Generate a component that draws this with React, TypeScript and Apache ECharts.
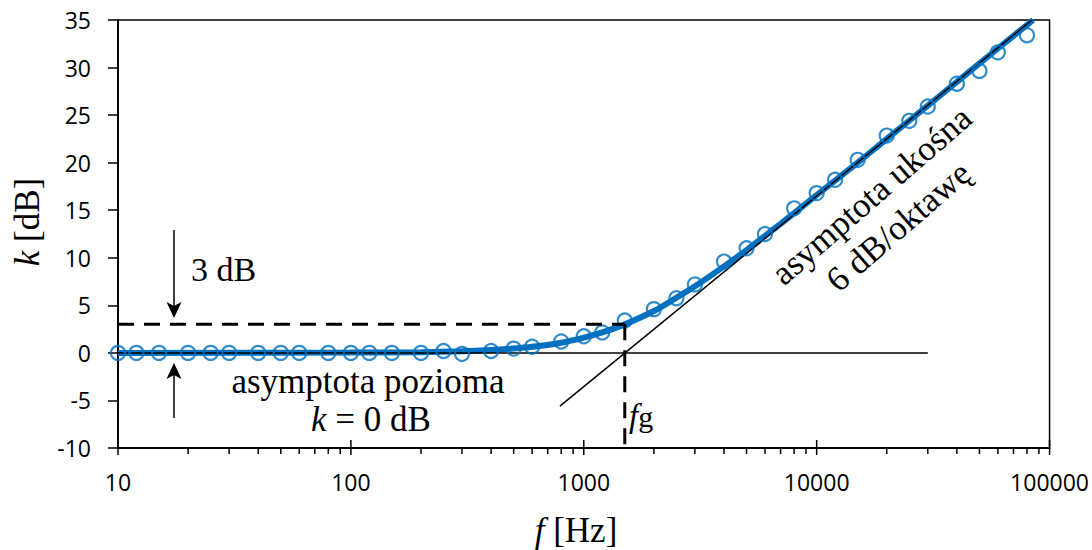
import React, { useEffect, useRef } from "react";
import * as echarts from "echarts";

// measured points (circles)
const FREQS = [10, 12, 15, 20, 25, 30, 40, 50, 60, 80, 100, 120, 150, 200, 250, 300, 400, 500, 600, 800, 1000, 1200, 1500, 2000, 2500, 3000, 4000, 5000, 6000, 8000, 10000, 12000, 15000, 20000, 25000, 30000, 40000, 50000, 60000, 80000];
const MEASURED = [0, 0, 0, 0, 0, 0, 0, 0, 0, 0, 0, 0, 0, 0, 0.2, -0.1, 0.2, 0.45, 0.65, 1.2, 1.75, 2.15, 3.4, 4.6, 5.75, 7.2, 9.6, 11.0, 12.5, 15.2, 16.8, 18.2, 20.3, 22.85, 24.4, 25.9, 28.3, 29.65, 31.6, 33.4];

// smooth blue curve
const CURVE_F = [10, 100, 200, 300, 400, 500, 600, 800, 1000, 1200, 1500, 2000, 2500, 3000, 4000, 5000, 6000, 8000, 10000, 15000, 20000, 30000, 40000, 60000, 85000];
const CURVE_K = [0, 0.04, 0.08, 0.17, 0.3, 0.46, 0.64, 1.07, 1.6, 2.15, 3.0, 4.4, 5.8, 7.0, 9.1, 10.8, 12.3, 14.7, 16.6, 20.0, 22.5, 26.0, 28.5, 32.0, 35.0];

// asymptotes and guides
const HORIZ_ASYMPTOTE = [[10, 0], [30000, 0]];
const SLANT_ASYMPTOTE = [[790, -5.6], [84000, 35]];
const DASH_3DB = [[10, 3], [1500, 3]];
const DASH_FG = [[1500, 3], [1500, -10]];

// axis ticks
const MAJOR_TICKS = [10, 100, 1000, 10000, 100000];
const MINOR_TICKS = [20, 30, 40, 50, 60, 70, 80, 90, 200, 300, 400, 500, 600, 700, 800, 900, 2000, 3000, 4000, 5000, 6000, 7000, 8000, 9000, 20000, 30000, 40000, 50000, 60000, 70000, 80000, 90000];
const Y_MIN = -10;
const Y_MAX = 35;
const Y_STEP = 5;

const BLUE = "#0070C0";
const SERIF = '"Liberation Serif", "Times New Roman", serif';
const SANS = '"Open Sans", "Noto Sans", sans-serif';

export default function App() {
  const ref = useRef<HTMLDivElement>(null);
  useEffect(() => {
    if (!ref.current) return;
    const chart = echarts.init(ref.current, undefined, { renderer: "svg" });
    const tickRender = (len: number[]) => (params: any, api: any) => {
      const p = api.coord([api.value(0), Y_MIN]);
      return {
        type: "line",
        shape: { x1: p[0], y1: p[1] - len[0], x2: p[0], y2: p[1] + len[1] },
        style: { stroke: "#000", lineWidth: 1.5 },
      };
    };
    const serifText = (size: number, extra: any = {}) => ({
      fontFamily: SERIF,
      fontSize: size,
      fill: "#000",
      ...extra,
    });
    const italic = { fontFamily: SERIF, fontStyle: "italic", fill: "#000" };
    const option: any = {
      animation: false,
      backgroundColor: "#fff",
      grid: {
        left: 118,
        right: 42,
        top: 20,
        bottom: 102,
        show: true,
        borderColor: "#000",
        borderWidth: 1.5,
        containLabel: false,
      },
      xAxis: {
        type: "log",
        logBase: 10,
        min: 10,
        max: 100000,
        axisLine: { show: true, onZero: false, lineStyle: { color: "#000", width: 2 } },
        axisTick: { show: false },
        splitLine: { show: false },
        axisLabel: {
          color: "#000",
          fontFamily: SANS,
          fontSize: 23,
          margin: 22,
          formatter: (v: number) => String(Math.round(v)),
        },
      },
      yAxis: {
        type: "value",
        min: Y_MIN,
        max: Y_MAX,
        interval: Y_STEP,
        axisLine: { show: true, lineStyle: { color: "#000", width: 2 } },
        axisTick: { show: true, inside: false, length: 10, lineStyle: { color: "#000", width: 1.5 } },
        splitLine: { show: false },
        axisLabel: { color: "#000", fontFamily: SANS, fontSize: 23, margin: 27 },
      },
      series: [
        {
          type: "line",
          data: CURVE_F.map((f, i) => [f, CURVE_K[i]]),
          showSymbol: false,
          smooth: 0.3,
          lineStyle: { color: BLUE, width: 6 },
          z: 2,
        },
        {
          type: "line",
          data: HORIZ_ASYMPTOTE,
          showSymbol: false,
          lineStyle: { color: "#000", width: 1.5 },
          z: 3,
        },
        {
          type: "line",
          data: SLANT_ASYMPTOTE,
          showSymbol: false,
          lineStyle: { color: "#000", width: 1.5 },
          z: 3,
        },
        {
          type: "scatter",
          data: FREQS.map((f, i) => [f, MEASURED[i]]),
          symbol: "circle",
          symbolSize: 14,
          itemStyle: { color: "rgba(0,0,0,0)", borderColor: BLUE, borderWidth: 2.2 },
          z: 4,
        },
        {
          type: "line",
          data: DASH_3DB,
          showSymbol: false,
          lineStyle: { color: "#000", width: 3, type: [16, 10] },
          z: 5,
        },
        {
          type: "line",
          data: DASH_FG,
          showSymbol: false,
          lineStyle: { color: "#000", width: 3, type: [16, 10] },
          z: 5,
        },
        {
          type: "custom",
          data: MAJOR_TICKS.map((v) => [v, Y_MIN]),
          renderItem: tickRender([8, 7]),
          clip: false,
          silent: true,
          z: 6,
        },
        {
          type: "custom",
          data: MINOR_TICKS.map((v) => [v, Y_MIN]),
          renderItem: tickRender([0, 6]),
          clip: false,
          silent: true,
          z: 6,
        },
      ],
      graphic: [
        // arrows
        { type: "line", shape: { x1: 174, y1: 230, x2: 174, y2: 306 }, style: { stroke: "#000", lineWidth: 1.5 } },
        { type: "polygon", shape: { points: [[174, 318], [166.5, 302], [174, 306], [181.5, 302]] }, style: { fill: "#000" } },
        { type: "line", shape: { x1: 174, y1: 375, x2: 174, y2: 418 }, style: { stroke: "#000", lineWidth: 1.5 } },
        { type: "polygon", shape: { points: [[174, 363], [166.5, 379], [174, 375], [181.5, 379]] }, style: { fill: "#000" } },
        // texts
        { type: "text", x: 191, y: 269, style: { text: "3 dB", ...serifText(34), align: "left", verticalAlign: "middle" } },
        { type: "text", x: 368, y: 381, style: { text: "asymptota pozioma", ...serifText(35), align: "center", verticalAlign: "middle" } },
        {
          type: "text",
          x: 371,
          y: 419,
          style: {
            text: "{i|k} = 0 dB",
            ...serifText(35),
            align: "center",
            verticalAlign: "middle",
            rich: { i: { ...italic, fontSize: 35 } },
          },
        },
        {
          type: "text",
          x: 629,
          y: 416,
          style: {
            text: "{i|f}{r|g}",
            ...serifText(32),
            align: "left",
            verticalAlign: "middle",
            rich: { i: { ...italic, fontSize: 33 }, r: { fontFamily: SERIF, fontSize: 30, fill: "#000" } },
          },
        },
        {
          type: "text",
          x: 885,
          y: 211,
          rotation: (41 * Math.PI) / 180,
          style: {
            text: "asymptota ukośna\n6 dB/oktawę",
            ...serifText(35),
            lineHeight: 41,
            align: "center",
            verticalAlign: "middle",
          },
        },
        {
          type: "text",
          x: 27,
          y: 222,
          rotation: Math.PI / 2,
          style: {
            text: "{i|k} [dB]",
            ...serifText(35),
            align: "center",
            verticalAlign: "middle",
            rich: { i: { ...italic, fontSize: 35 } },
          },
        },
        {
          type: "text",
          x: 576,
          y: 530,
          style: {
            text: "{i|f} [Hz]",
            ...serifText(35),
            align: "center",
            verticalAlign: "middle",
            rich: { i: { ...italic, fontSize: 35 } },
          },
        },
      ],
    };
    chart.setOption(option);
    return () => chart.dispose();
  }, []);
  return (
    <div
      ref={ref}
      style={{ position: "fixed", left: 0, top: 0, width: 1092, height: 550, background: "#fff" }}
    />
  );
}
